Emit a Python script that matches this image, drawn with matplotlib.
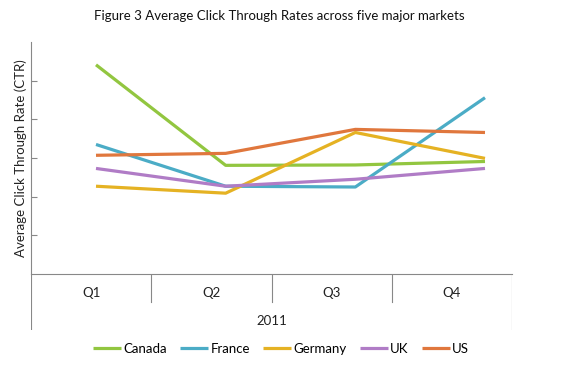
import matplotlib
matplotlib.use("Agg")
import matplotlib.pyplot as plt

plt.rcParams['font.family'] = ['Lato', 'DejaVu Sans']

quarters = ["Q1", "Q2", "Q3", "Q4"]
year_label = "2011"
series_names = ["Canada", "France", "Germany", "UK", "US"]
canada = [5.41, 2.81, 2.82, 2.91]
france = [3.35, 2.27, 2.25, 4.56]
germany = [2.27, 2.09, 3.66, 2.99]
uk = [2.73, 2.27, 2.45, 2.73]
us = [3.07, 3.12, 3.74, 3.66]
colors = ["#92C640", "#4BACC6", "#E5B223", "#B07CC6", "#E0773D"]

W, H = 561, 365
fig = plt.figure(figsize=(W / 100, H / 100), dpi=100)

def box(x0, y0, x1, y1):
    return [x0 / W, 1 - y1 / H, (x1 - x0) / W, (y1 - y0) / H]

ax = fig.add_axes(box(31, 42, 512, 274))
xs = list(range(len(quarters)))
for name, vals, c in zip(series_names, [canada, france, germany, uk, us], colors):
    ax.plot(xs, vals, color=c, lw=2.3, label=name, solid_capstyle='butt')

unit = (485 - 96) / 3
ax.set_xlim(-(96 - 31) / unit, 3 + (512 - 485) / unit)
ax.set_ylim(0, 6)
ax.set_yticks([1, 2, 3, 4, 5])
ax.set_yticklabels([])
ax.tick_params(axis='y', direction='in', length=4, color='#888888', width=0.8)
ax.set_xticks([])
for s in ['top', 'right']:
    ax.spines[s].set_visible(False)
for s in ['left', 'bottom']:
    ax.spines[s].set_color('#888888')
    ax.spines[s].set_linewidth(0.8)
ax.patch.set_alpha(0)

cat = fig.add_axes(box(31, 274, 512, 330))
cat.set_xlim(0, 4)
cat.set_ylim(0, 1)
cat.axis('off')
for i in range(5):
    ymin = 0.0 if i in (0, 4) else 1 - 28 / 56
    cat.axvline(i, ymin=ymin, ymax=1, color='#888888', lw=0.8)
for i, q in enumerate(quarters):
    cat.text(i + 0.5, 1 - 19 / 56, q, ha='center', va='center', fontsize=9.5, color='#222222')
cat.text(2, 1 - 47 / 56, year_label, ha='center', va='center', fontsize=9.5, color='#222222')

fig.text(279 / W, 1 - 16 / H, "Figure 3 Average Click Through Rates across five major markets",
         ha='center', va='center', fontsize=9.5, color='#111111')
fig.text(21 / W, 1 - 158 / H, "Average Click Through Rate (CTR)", rotation=90,
         ha='center', va='center', fontsize=9.5, color='#222222')

handles, labels = ax.get_legend_handles_labels()
fig.legend(handles, labels, loc='center', bbox_to_anchor=(281 / W, 1 - 349 / H), ncol=5,
           frameon=False, fontsize=9.5, handlelength=2.1, handletextpad=0.2,
           columnspacing=1.0, borderaxespad=0)

fig.savefig("out.png", dpi=100)
